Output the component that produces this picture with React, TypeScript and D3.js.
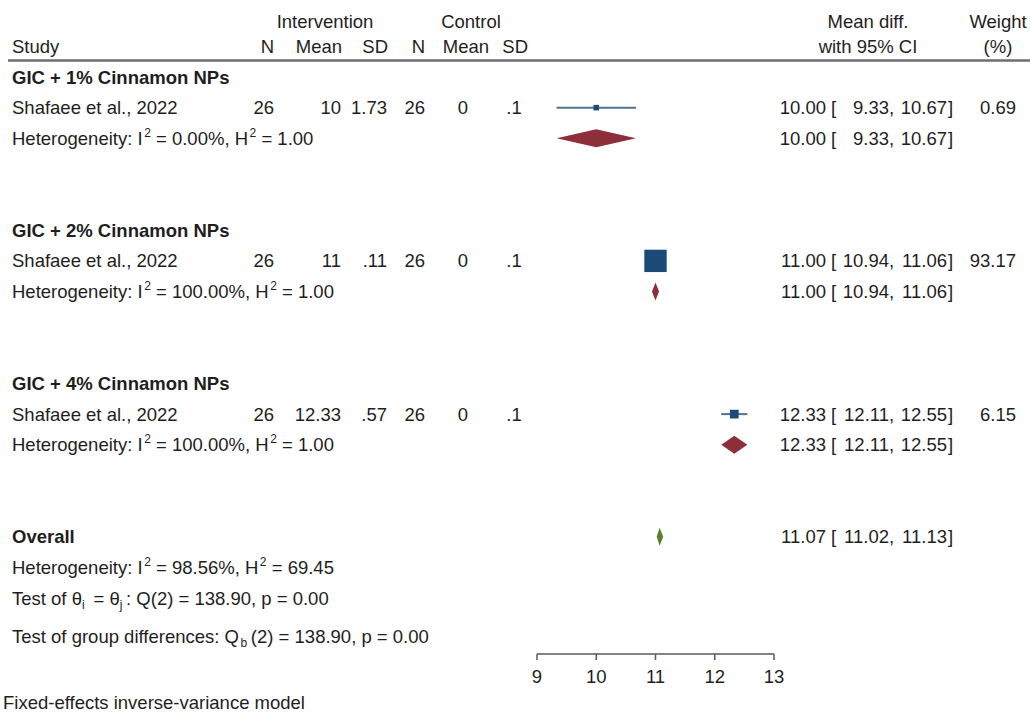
import React from "react";
import * as d3 from "d3";

// Subgroup labels and per-study table values
const groupLabels = ["GIC + 1% Cinnamon NPs", "GIC + 2% Cinnamon NPs", "GIC + 4% Cinnamon NPs"];
const studyLabels = ["Shafaee et al., 2022", "Shafaee et al., 2022", "Shafaee et al., 2022"];
const intN = ["26", "26", "26"];
const intMean = ["10", "11", "12.33"];
const intSD = ["1.73", ".11", ".57"];
const ctlN = ["26", "26", "26"];
const ctlMean = ["0", "0", "0"];
const ctlSD = [".1", ".1", ".1"];

// Effect sizes (mean difference with 95% CI) and weights
const studyEst = [10.0, 11.0, 12.33];
const studyLo = [9.33, 10.94, 12.11];
const studyHi = [10.67, 11.06, 12.55];
const studyWeight = [0.69, 93.17, 6.15];

// Subgroup pooled estimates and heterogeneity
const subEst = [10.0, 11.0, 12.33];
const subLo = [9.33, 10.94, 12.11];
const subHi = [10.67, 11.06, 12.55];
const subI2 = ["0.00%", "100.00%", "100.00%"];
const subH2 = ["1.00", "1.00", "1.00"];

// Overall pooled estimate and tests
const overallEst = [11.07];
const overallLo = [11.02];
const overallHi = [11.13];
const overallI2 = "98.56%";
const overallH2 = "69.45";
const qStat = "138.90";
const qP = "0.00";
const qbStat = "138.90";
const qbP = "0.00";

const axisTicks = [9, 10, 11, 12, 13];

const W = 1030;
const H = 713;
const FONT = "'Liberation Sans', Arial, Helvetica, sans-serif";
const FS = 18.5;
const TEXT = "#1e1e1e";
const SQUARE = "#1c4a78";
const CI_LINE = "#51728f";
const DIAMOND = "#8d2f3a";
const OVERALL = "#5a7f2e";

const x = d3.scaleLinear().domain([9, 13]).range([537, 774]);
const y = d3.scaleLinear().domain([0, 17]).range([77, 598]);
const size = d3.scaleSqrt().domain([0, 100]).range([4, 23]);

const fmt2 = d3.format(".2f");

function diamondPath(lo: number, est: number, hi: number, cy: number, half = 9) {
  const p = d3.path();
  p.moveTo(x(lo), cy);
  p.lineTo(x(est), cy - half);
  p.lineTo(x(hi), cy);
  p.lineTo(x(est), cy + half);
  p.closePath();
  return p.toString();
}

function CIText({ est, lo, hi, cy }: { est: number; lo: number; hi: number; cy: number }) {
  return (
    <g fontSize={FS} fill={TEXT} dominantBaseline="central">
      <text x={826} y={cy} textAnchor="end">{fmt2(est)}</text>
      <text x={831} y={cy}>[</text>
      <text x={889} y={cy} textAnchor="end">{fmt2(lo)}</text>
      <text x={889} y={cy}>,</text>
      <text x={947} y={cy} textAnchor="end">{fmt2(hi)}</text>
      <text x={948} y={cy}>]</text>
    </g>
  );
}

// A line of text made of plain, superscript and subscript pieces
type Piece = { t: string; k?: "sup" | "sub" };

function RichText({ x0, cy, pieces }: { x0: number; cy: number; pieces: Piece[] }) {
  let shift = 0;
  return (
    <text x={x0} y={cy + 6.5}>
      {pieces.map((p, i) => {
        const target = p.k === "sup" ? -8 : p.k === "sub" ? 4 : 0;
        const dy = target - shift;
        shift = target;
        return (
          <tspan key={i} dy={dy} fontSize={p.k ? 12 : undefined}>
            {p.t}
          </tspan>
        );
      })}
    </text>
  );
}

function Heterogeneity({ i2, h2, cy }: { i2: string; h2: string; cy: number }) {
  return (
    <RichText
      x0={12}
      cy={cy}
      pieces={[
        { t: "Heterogeneity: I\u200A" },
        { t: "2", k: "sup" },
        { t: ` = ${i2}, H\u200A` },
        { t: "2", k: "sup" },
        { t: ` = ${h2}` },
      ]}
    />
  );
}

export default function App() {
  const axisY = 654;
  return (
    <svg
      width={W}
      height={H}
      style={{ position: "absolute", left: 0, top: 0, background: "#fff" }}
      fontFamily={FONT}
      fontSize={FS}
      fill={TEXT}
    >
      <rect width={W} height={H} fill="#fff" />

      {/* column headers */}
      <g dominantBaseline="central">
        <text x={325} y={21} textAnchor="middle">Intervention</text>
        <text x={471} y={21} textAnchor="middle">Control</text>
        <text x={12} y={46}>Study</text>
        <text x={274} y={46} textAnchor="end">N</text>
        <text x={342} y={46} textAnchor="end">Mean</text>
        <text x={388} y={46} textAnchor="end">SD</text>
        <text x={425} y={46} textAnchor="end">N</text>
        <text x={489} y={46} textAnchor="end">Mean</text>
        <text x={528} y={46} textAnchor="end">SD</text>
        <text x={868} y={21} textAnchor="middle">Mean diff.</text>
        <text x={868} y={46} textAnchor="middle">with 95% CI</text>
        <text x={998} y={21} textAnchor="middle">Weight</text>
        <text x={998} y={46} textAnchor="middle">(%)</text>
      </g>
      <line x1={8} x2={W} y1={60.5} y2={60.5} stroke="#6e6e6e" strokeWidth={2.5} />

      {groupLabels.map((g, i) => {
        const yh = y(5 * i);
        const ys = y(5 * i + 1);
        const yt = y(5 * i + 2);
        const s = size(studyWeight[i]);
        return (
          <g key={g}>
            <text x={12} y={yh} fontWeight="bold" dominantBaseline="central">{g}</text>
            <g dominantBaseline="central">
              <text x={12} y={ys}>{studyLabels[i]}</text>
              <text x={274} y={ys} textAnchor="end">{intN[i]}</text>
              <text x={341} y={ys} textAnchor="end">{intMean[i]}</text>
              <text x={387} y={ys} textAnchor="end">{intSD[i]}</text>
              <text x={425} y={ys} textAnchor="end">{ctlN[i]}</text>
              <text x={463} y={ys} textAnchor="middle">{ctlMean[i]}</text>
              <text x={514} y={ys} textAnchor="middle">{ctlSD[i]}</text>
              <text x={1016} y={ys} textAnchor="end">{fmt2(studyWeight[i])}</text>
            </g>
            <line x1={x(studyLo[i])} x2={x(studyHi[i])} y1={ys} y2={ys} stroke={CI_LINE} strokeWidth={2} />
            <rect x={x(studyEst[i]) - s / 2} y={ys - s / 2} width={s} height={s} fill={SQUARE} />
            <CIText est={studyEst[i]} lo={studyLo[i]} hi={studyHi[i]} cy={ys} />

            <Heterogeneity i2={subI2[i]} h2={subH2[i]} cy={yt} />
            <path d={diamondPath(subLo[i], subEst[i], subHi[i], yt)} fill={DIAMOND} />
            <CIText est={subEst[i]} lo={subLo[i]} hi={subHi[i]} cy={yt} />
          </g>
        );
      })}

      {/* overall */}
      <text x={12} y={y(15)} fontWeight="bold" dominantBaseline="central">Overall</text>
      <path d={diamondPath(overallLo[0], overallEst[0], overallHi[0], y(15))} fill={OVERALL} />
      <CIText est={overallEst[0]} lo={overallLo[0]} hi={overallHi[0]} cy={y(15)} />
      <Heterogeneity i2={overallI2} h2={overallH2} cy={y(16)} />
      <RichText
        x0={12}
        cy={y(17)}
        pieces={[
          { t: "Test of \u03B8" },
          { t: "i", k: "sub" },
          { t: "\u2009 = \u03B8" },
          { t: "j", k: "sub" },
          { t: `\u2009: Q(2) = ${qStat}, p = ${qP}` },
        ]}
      />
      <RichText
        x0={12}
        cy={636}
        pieces={[
          { t: "Test of group differences: Q\u200A" },
          { t: "b", k: "sub" },
          { t: `\u2009(2) = ${qbStat}, p = ${qbP}` },
        ]}
      />

      {/* x axis */}
      <g>
        <line x1={x(axisTicks[0])} x2={x(axisTicks[axisTicks.length - 1])} y1={axisY} y2={axisY} stroke="#5a5a5a" strokeWidth={1.5} />
        {axisTicks.map((t) => (
          <g key={t}>
            <line x1={x(t)} x2={x(t)} y1={axisY} y2={axisY + 6} stroke="#5a5a5a" strokeWidth={1.5} />
            <text x={x(t)} y={676} textAnchor="middle" dominantBaseline="central">{t}</text>
          </g>
        ))}
      </g>

      <text x={3} y={702} dominantBaseline="central">Fixed-effects inverse-variance model</text>
    </svg>
  );
}
